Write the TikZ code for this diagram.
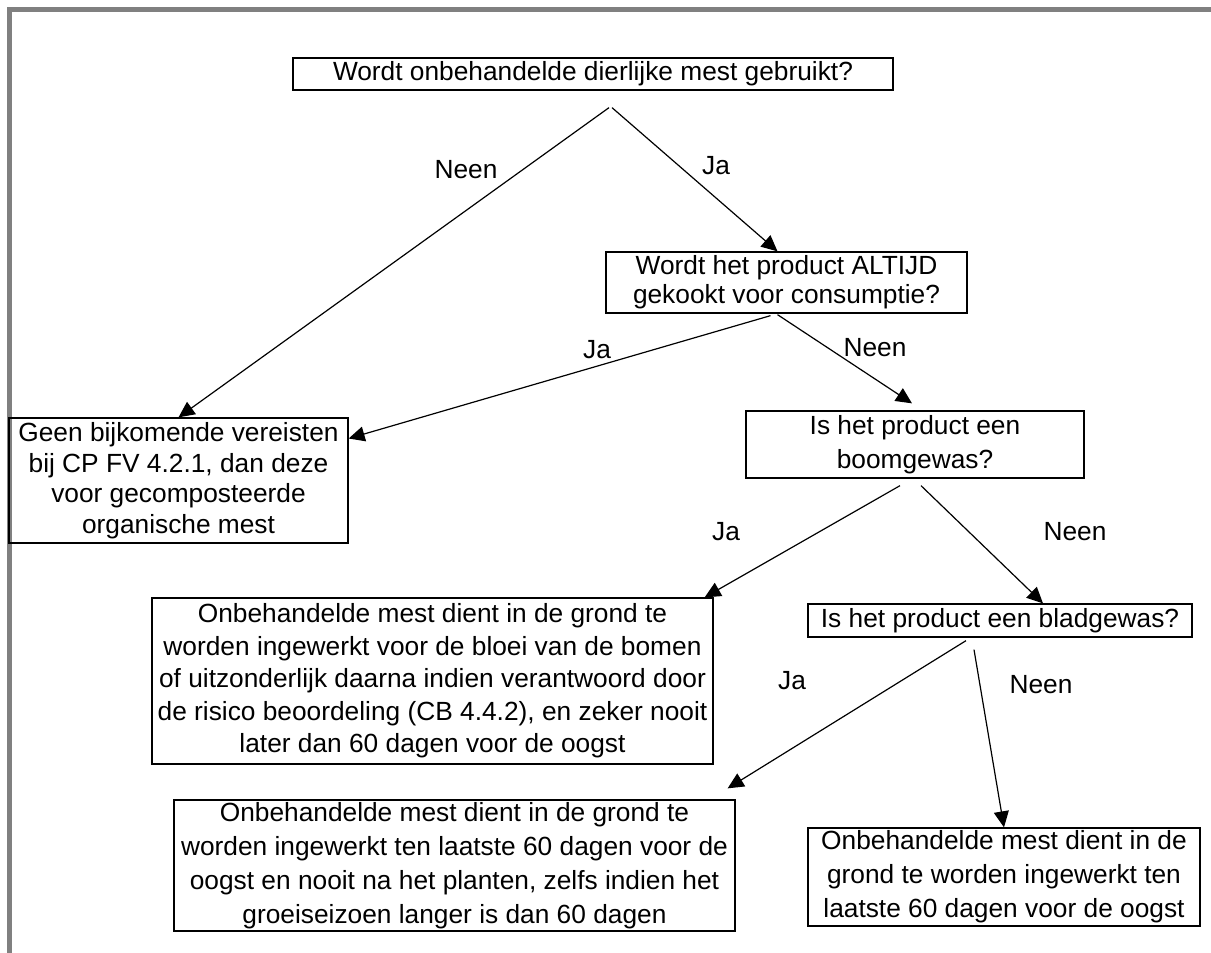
\documentclass[tikz,border=0pt]{standalone}
\usepackage{fontspec}
\setmainfont{Liberation Sans}
\usetikzlibrary{arrows.meta}

\begin{document}
\begin{tikzpicture}[x=1pt, y=-1pt,
  vak/.style={draw=black, line width=1.3pt, align=center, inner sep=0pt, font=\fontsize{26.3}{34}\selectfont},
  pijl/.style={line width=1.2pt, -{Triangle[length=16pt, width=15pt]}},
  etiket/.style={font=\fontsize{26.3}{31}\selectfont}]

\useasboundingbox ( 0, 0 ) rectangle ( 1211, 953 );

% Kader
\draw [line width=5pt, gray] ( 9.5, 953 ) -- ( 9.5, 9.5 ) -- ( 1211, 9.5 );

% Vragen
\node (vraag1) at ( 593, 74 ) [vak, minimum width=600pt, minimum height=32pt] {Wordt onbehandelde dierlijke mest gebruikt?};
\node (vraag2) at ( 786.5, 282.5 ) [vak, minimum width=361pt, minimum height=61pt, font=\fontsize{26.3}{29}\selectfont] {Wordt het product ALTIJD\\gekookt voor consumptie?};
\node (vraag3) at ( 915, 444.5 ) [vak, minimum width=338pt, minimum height=67pt] {Is het product een\\boomgewas?};
\node (vraag4) at ( 1000, 620.5 ) [vak, minimum width=384pt, minimum height=33pt] {Is het product een bladgewas?};

% Uitkomsten
\node (eind1) at ( 178.5, 480.5 ) [vak, minimum width=339pt, minimum height=125pt, font=\fontsize{26.3}{30.5}\selectfont] {Geen bijkomende vereisten\\bij CP FV 4.2.1, dan deze\\voor gecomposteerde\\organische mest};
\node (eind2) at ( 432.5, 681 ) [vak, minimum width=561pt, minimum height=166pt, font=\fontsize{26.3}{32.5}\selectfont] {Onbehandelde mest dient in de grond te\\worden ingewerkt voor de bloei van de bomen\\of uitzonderlijk daarna indien verantwoord door\\de risico beoordeling (CB 4.4.2), en zeker nooit\\later dan 60 dagen voor de oogst};
\node (eind3) at ( 454.5, 865.5 ) [vak, minimum width=561pt, minimum height=131pt] {Onbehandelde mest dient in de grond te\\worden ingewerkt ten laatste 60 dagen voor de\\oogst en nooit na het planten, zelfs indien het\\groeiseizoen langer is dan 60 dagen};
\node (eind4) at ( 1004, 877 ) [vak, minimum width=392pt, minimum height=98pt] {Onbehandelde mest dient in de\\grond te worden ingewerkt ten\\laatste 60 dagen voor de oogst};

% Pijlen
\draw [pijl] ([xshift=16pt, yshift=-17pt]vraag1.south) -- (eind1.north);
\draw [pijl] ([xshift=19pt, yshift=-17pt]vraag1.south) -- ([xshift=-9pt]vraag2.north);
\draw [pijl] ([xshift=-16pt, yshift=-2pt]vraag2.south) -- ([yshift=42pt]eind1.east);
\draw [pijl] ([xshift=-9pt, yshift=-1pt]vraag2.south) -- ([xshift=-3pt, yshift=7pt]vraag3.north);
\draw [pijl] ([xshift=-15pt, yshift=-7pt]vraag3.south) -- ([xshift=-9pt]eind2.north east);
\draw [pijl] ([xshift=6pt, yshift=-7pt]vraag3.south) -- ([xshift=43pt]vraag4.north);
\draw [pijl] ([xshift=-34pt, yshift=-3pt]vraag4.south) -- ([xshift=-8pt, yshift=11pt]eind3.north east);
\draw [pijl] ([xshift=-26pt, yshift=-12pt]vraag4.south) -- (eind4.north);

% Labels
\node (neen1) at ( 466, 170 ) [etiket] {Neen};
\node (ja1) at ( 716, 166 ) [etiket] {Ja};
\node (ja2) at ( 597, 350 ) [etiket] {Ja};
\node (neen2) at ( 875, 348 ) [etiket] {Neen};
\node (ja3) at ( 726, 532 ) [etiket] {Ja};
\node (neen3) at ( 1075, 532 ) [etiket] {Neen};
\node (ja4) at ( 792, 681 ) [etiket] {Ja};
\node (neen4) at ( 1041, 685 ) [etiket] {Neen};

\end{tikzpicture}
\end{document}
